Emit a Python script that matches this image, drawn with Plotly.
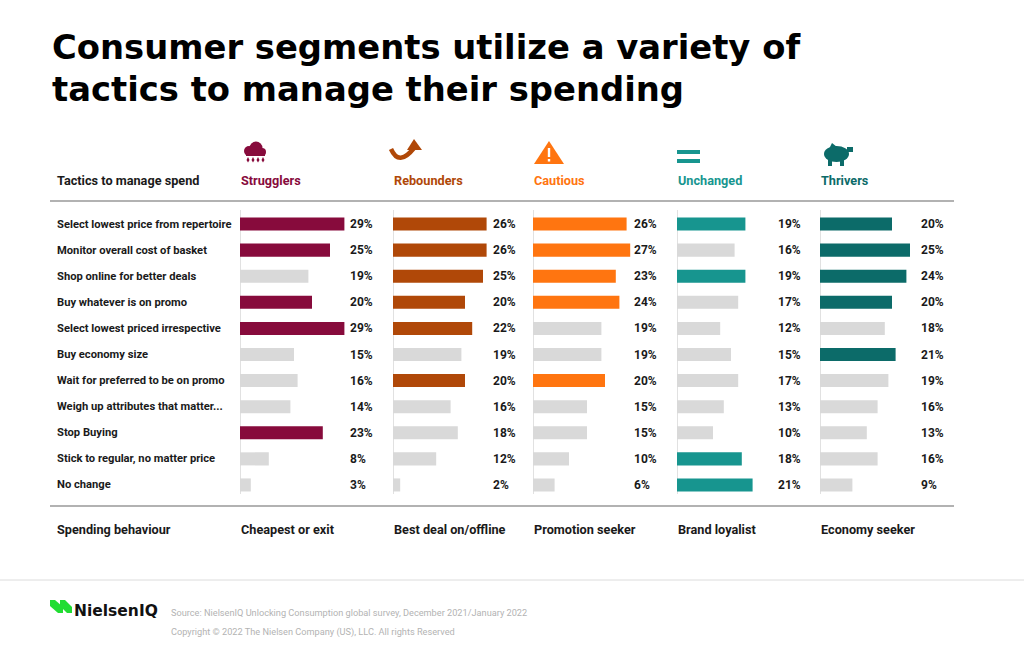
import plotly.graph_objects as go

# ---- data ----
tactics = [
    "Select lowest price from repertoire",
    "Monitor overall cost of basket",
    "Shop online for better deals",
    "Buy whatever is on promo",
    "Select lowest priced irrespective",
    "Buy economy size",
    "Wait for preferred to be on promo",
    "Weigh up attributes that matter...",
    "Stop Buying",
    "Stick to regular, no matter price",
    "No change",
]
segments = ["Strugglers", "Rebounders", "Cautious", "Unchanged", "Thrivers"]
behaviours = ["Cheapest or exit", "Best deal on/offline", "Promotion seeker",
              "Brand loyalist", "Economy seeker"]

strugglers = [29, 25, 19, 20, 29, 15, 16, 14, 23, 8, 3]
rebounders = [26, 26, 25, 20, 22, 19, 20, 16, 18, 12, 2]
cautious = [26, 27, 23, 24, 19, 19, 20, 15, 15, 10, 6]
unchanged = [19, 16, 19, 17, 12, 15, 17, 13, 10, 18, 21]
thrivers = [20, 25, 24, 20, 18, 21, 19, 16, 13, 16, 9]

# which bars are coloured (1) vs grey (0)
hl_strugglers = [1, 1, 0, 1, 1, 0, 0, 0, 1, 0, 0]
hl_rebounders = [1, 1, 1, 1, 1, 0, 1, 0, 0, 0, 0]
hl_cautious = [1, 1, 1, 1, 0, 0, 1, 0, 0, 0, 0]
hl_unchanged = [1, 0, 1, 0, 0, 0, 0, 0, 0, 1, 1]
hl_thrivers = [1, 1, 1, 1, 0, 1, 0, 0, 0, 0, 0]

values = [strugglers, rebounders, cautious, unchanged, thrivers]
highlights = [hl_strugglers, hl_rebounders, hl_cautious, hl_unchanged, hl_thrivers]
colors = ["#870b3c", "#b04808", "#ff7510", "#17958f", "#0c6b69"]
GREY = "#d9d9d9"

# ---- layout helpers (pixel -> paper) ----
W, H = 1024, 654


def px(x):
    return x / W


def py(y):
    return 1 - y / H


def path(points, close=True):
    s = "M " + " L ".join(f"{px(x):.5f},{py(y):.5f}" for x, y in points)
    return s + (" Z" if close else "")


def text(x, y, s, size, color="#1a1a1a", family="Roboto", xref="paper", yref="paper"):
    fig.add_annotation(x=x, y=y, xref=xref, yref=yref, text=s, showarrow=False,
                       xanchor="left", yanchor="middle",
                       font=dict(family=family, size=size, color=color))


col_x = [240, 393, 533, 677, 820]      # left edge of each column, px
label_off = [30.0, 27.2, 27.5, 27.5, 27.5]  # value label position, axis units
PPU = 3.6  # px per percent
XMAX = 38

fig = go.Figure()
shapes = []

for i, seg in enumerate(segments):
    ax = "x" if i == 0 else f"x{i + 1}"
    bar_colors = [colors[i] if h else GREY for h in highlights[i]]
    fig.add_trace(go.Bar(
        x=values[i], y=tactics, orientation="h",
        marker=dict(color=bar_colors, line_width=0),
        width=0.5, xaxis=ax, yaxis="y", hoverinfo="x+y",
        showlegend=False,
    ))
    axis_key = "xaxis" if i == 0 else f"xaxis{i + 1}"
    fig.layout[axis_key] = dict(
        domain=[px(col_x[i]), px(col_x[i] + XMAX * PPU)],
        range=[0, XMAX], visible=False, anchor="y", fixedrange=True,
    )
    # value labels
    for t, v in zip(tactics, values[i]):
        text(label_off[i], t, f"<b>{v}%</b>", 12, xref=ax, yref="y")
    # baseline
    shapes.append(dict(type="line", xref=ax, yref="paper", x0=0, x1=0,
                       y0=py(210), y1=py(494), layer="below",
                       line=dict(color="#c4c4c4", width=1)))
    # segment header and behaviour footer
    text(px(col_x[i] - 1), py(180), f"<b>{seg}</b>", 12.7, colors[i])
    text(px(col_x[i] - 1), py(529), f"<b>{behaviours[i]}</b>", 12.7)

# row labels
for t in tactics:
    text(px(55), t, f"<b>{t}</b>", 11.2, yref="y")

text(px(55), py(180), "<b>Tactics to manage spend</b>", 12.7)
text(px(55), py(529), "<b>Spending behaviour</b>", 12.7)

# title
text(px(50), py(47), "<b>Consumer segments utilize a variety of</b>", 33.8,
     "#000", "DejaVu Sans")
text(px(50), py(89), "<b>tactics to manage their spending</b>", 33.8,
     "#000", "DejaVu Sans")

# rules
shapes += [
    dict(type="line", xref="paper", yref="paper", x0=px(50), x1=px(954),
         y0=py(201), y1=py(201), line=dict(color="#999", width=1.5)),
    dict(type="line", xref="paper", yref="paper", x0=px(50), x1=px(954),
         y0=py(506), y1=py(506), line=dict(color="#999", width=1.5)),
    dict(type="line", xref="paper", yref="paper", x0=0, x1=1,
         y0=py(580), y1=py(580), line=dict(color="#dcdcdc", width=1)),
]

# icons: cloud (Strugglers)
c = colors[0]
for cx, cy, r in [(249, 151, 5), (256, 148, 6.5), (262, 152, 4)]:
    shapes.append(dict(type="circle", xref="paper", yref="paper",
                       x0=px(cx - r), x1=px(cx + r), y0=py(cy - r), y1=py(cy + r),
                       fillcolor=c, line_width=0))
shapes.append(dict(type="rect", xref="paper", yref="paper", x0=px(246), x1=px(265),
                   y0=py(151), y1=py(156), fillcolor=c, line_width=0))
for dx in [248, 253, 258, 263]:
    shapes.append(dict(type="path", path=path([(dx - 1.5, 160), (dx, 157), (dx + 1.5, 160), (dx, 162.5)]),
                       xref="paper", yref="paper", fillcolor=c, line_width=0))

# arrow (Rebounders)
c = colors[1]
shapes.append(dict(type="path", xref="paper", yref="paper",
                   path=f"M {px(391):.5f},{py(149):.5f} Q {px(399):.5f},{py(167):.5f} {px(414):.5f},{py(148):.5f}",
                   line=dict(color=c, width=4.5)))
shapes.append(dict(type="path", xref="paper", yref="paper",
                   path=path([(407, 150), (414, 139), (422, 150)]),
                   fillcolor=c, line_width=0))

# warning triangle (Cautious)
c = colors[2]
shapes.append(dict(type="path", xref="paper", yref="paper",
                   path=path([(549, 141), (564, 164), (534, 164)]),
                   fillcolor=c, line_width=0))
shapes.append(dict(type="rect", xref="paper", yref="paper", x0=px(547.8), x1=px(550.2),
                   y0=py(148), y1=py(157), fillcolor="white", line_width=0))
shapes.append(dict(type="rect", xref="paper", yref="paper", x0=px(547.8), x1=px(550.2),
                   y0=py(159), y1=py(161.5), fillcolor="white", line_width=0))

# equals (Unchanged)
c = colors[3]
for y0 in [150, 159]:
    shapes.append(dict(type="rect", xref="paper", yref="paper", x0=px(677), x1=px(700),
                       y0=py(y0), y1=py(y0 + 4), fillcolor=c, line_width=0))

# piggy bank (Thrivers)
c = colors[4]
shapes.append(dict(type="circle", xref="paper", yref="paper", x0=px(824), x1=px(849),
                   y0=py(146), y1=py(162), fillcolor=c, line_width=0))
for lx in [828, 840]:
    shapes.append(dict(type="rect", xref="paper", yref="paper", x0=px(lx), x1=px(lx + 4),
                       y0=py(157), y1=py(166), fillcolor=c, line_width=0))
shapes.append(dict(type="path", xref="paper", yref="paper",
                   path=path([(829, 149), (832, 143), (837, 147)]),
                   fillcolor=c, line_width=0))
shapes.append(dict(type="rect", xref="paper", yref="paper", x0=px(847), x1=px(853),
                   y0=py(147), y1=py(152), fillcolor=c, line_width=0))

# NielsenIQ mark
g = "#22dd33"
shapes.append(dict(type="path", xref="paper", yref="paper",
                   path=path([(50, 600), (55, 600), (63, 607), (63, 613), (58, 613), (50, 606)]),
                   fillcolor=g, line_width=0))
shapes.append(dict(type="path", xref="paper", yref="paper",
                   path=path([(60, 600), (65, 600), (72, 607), (72, 613), (67, 613), (60, 606)]),
                   fillcolor=g, line_width=0))

text(px(72), py(611), "<b>NielsenIQ</b>", 15.5, "#111", "DejaVu Sans")
text(px(169), py(612),
     "Source: NielsenIQ Unlocking Consumption global survey, December 2021/January 2022",
     9.2, "#b3b3b3")
text(px(169), py(632),
     "Copyright © 2022 The Nielsen Company (US), LLC. All rights Reserved",
     9.2, "#b3b3b3")

fig.update_layout(
    width=W, height=H,
    margin=dict(l=0, r=0, t=0, b=0),
    paper_bgcolor="white", plot_bgcolor="white",
    shapes=shapes,
    yaxis=dict(domain=[py(498), py(211)], categoryorder="array",
               categoryarray=tactics, range=[10.5, -0.5], visible=False,
               fixedrange=True),
    bargap=0.5,
)

fig.write_html("out.html", config={"displayModeBar": False},
               post_script="document.body.style.margin='0';")
